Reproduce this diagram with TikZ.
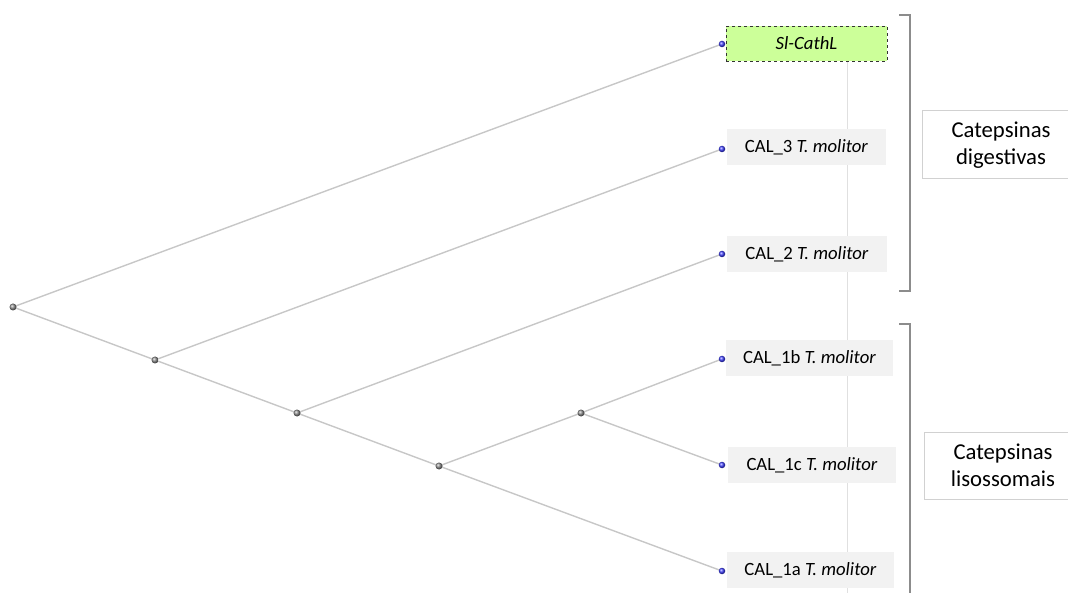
\documentclass[tikz,border=0pt]{standalone}
\usepackage{fontspec}
\setmainfont{Carlito}
\begin{document}
\begin{tikzpicture}[x=1pt,y=-1pt,
  edge/.style={draw=black!22,line width=1.4pt},
  inner/.style={circle,inner sep=0pt,minimum size=7pt,shade,ball color=black!45},
  leafdot/.style={circle,inner sep=0pt,minimum size=6.5pt,shade,ball color=blue!75},
  leafbox/.style={rectangle,fill=black!5,minimum height=36pt,font=\fontsize{18.7}{22}\selectfont,inner sep=0pt},
  bracket/.style={draw=black!45,line width=1.5pt},
  grouptext/.style={font=\fontsize{22.7}{27}\selectfont,align=center},
  groupbox/.style={rectangle,draw=black!18,line width=1pt,fill=white}]
\useasboundingbox (0,0) rectangle (1068,593);
\clip (0,0) rectangle (1068,593);
% guide line
\coordinate (gtop) at (847,61);
\coordinate (gbot) at (847,593);
\draw[black!12,line width=1pt] (gtop) -- (gbot);
% leaf boxes
\node[leafbox,draw=black!80,dashed,fill={rgb,255:red,204;green,255;blue,153},minimum width=161pt,minimum height=35pt] (b1) at (806.5,43.5) {\itshape Sl-CathL};
\node[leafbox,minimum width=159pt] (b2) at (806.5,147) {CAL\_3 \textit{T. molitor}};
\node[leafbox,minimum width=160pt] (b3) at (807,254) {CAL\_2 \textit{T. molitor}};
\node[leafbox,minimum width=167pt] (b4) at (809.5,358) {CAL\_1b \textit{T. molitor}};
\node[leafbox,minimum width=168pt] (b5) at (812,465) {CAL\_1c \textit{T. molitor}};
\node[leafbox,minimum width=167pt] (b6) at (810.5,570) {CAL\_1a \textit{T. molitor}};
% tree nodes
\coordinate (r) at (13,307);
\coordinate (n2) at (155,360);
\coordinate (n3) at (297,413);
\coordinate (n4) at (439,466);
\coordinate (n5) at (581,413);
\coordinate (l1) at (722,44);
\coordinate (l2) at (722,149);
\coordinate (l3) at (722,254);
\coordinate (l4) at (722,359);
\coordinate (l5) at (722,465);
\coordinate (l6) at (722,571);
\draw[edge] (r) -- (l1);
\draw[edge] (r) -- (n2);
\draw[edge] (n2) -- (l2);
\draw[edge] (n2) -- (n3);
\draw[edge] (n3) -- (l3);
\draw[edge] (n3) -- (n4);
\draw[edge] (n4) -- (n5);
\draw[edge] (n4) -- (l6);
\draw[edge] (n5) -- (l4);
\draw[edge] (n5) -- (l5);
\foreach \n in {r,n2,n3,n4,n5} \node[inner] at (\n) {};
\foreach \n in {l1,l2,l3,l4,l5,l6} \node[leafdot] at (\n) {};
% brackets
\coordinate (a1) at (899,15);
\coordinate (a2) at (910,15);
\coordinate (a3) at (910,291);
\coordinate (a4) at (899,291);
\draw[bracket] (a1) -- (a2) -- (a3) -- (a4);
\coordinate (c1) at (899,324);
\coordinate (c2) at (910,324);
\coordinate (c3) at (910,600);
\draw[bracket] (c1) -- (c2) -- (c3);
% group labels
\node[groupbox,minimum width=156pt,minimum height=68pt,anchor=west] (g1) at (922,145) {};
\node[grouptext] (t1) at (1001,145) {Catepsinas\\digestivas};
\node[groupbox,minimum width=156pt,minimum height=67pt,anchor=west] (g2) at (924,465.5) {};
\node[grouptext] (t2) at (1003,465.5) {Catepsinas\\lisossomais};
\end{tikzpicture}
\end{document}
